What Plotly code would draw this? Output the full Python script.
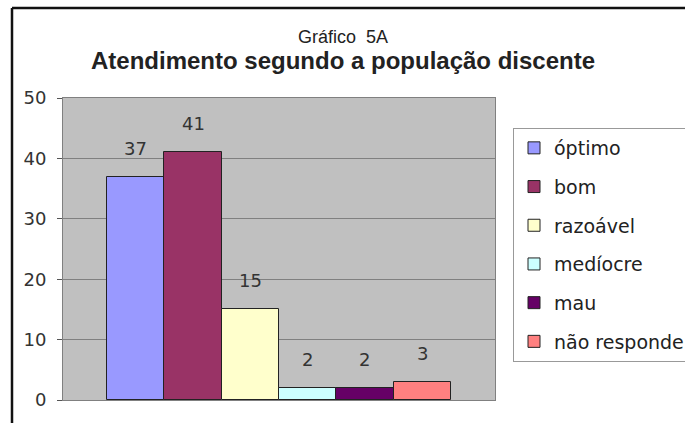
import plotly.graph_objects as go

# ---- data ----
categorias = ["óptimo", "bom", "razoável", "medíocre", "mau", "não responde"]
valores = [37, 41, 15, 2, 2, 3]
cores = ["#9999FF", "#993366", "#FFFFCC", "#CCFFFF", "#660066", "#FF8080"]
y_ticks = [0, 10, 20, 30, 40, 50]
titulo_sup = "Gráfico  5A"
titulo = "Atendimento segundo a população discente"

FONT = "Liberation Sans, Arial, sans-serif"
FONT_W = "DejaVu Sans, Verdana, sans-serif"

W, H = 685, 423
L, R, T, B = 63, 190, 98, 23
pw, ph = W - L - R, H - T - B


def px_x(x):
    return (x - L) / pw


def px_y(y):
    return (H - B - y) / ph


fig = go.Figure()
for i, (c, v, col) in enumerate(zip(categorias, valores, cores)):
    fig.add_trace(go.Bar(
        x=[c], y=[v], name=c,
        marker=dict(color=col, line=dict(color="#222222", width=1)),
        legendgroup=f"g{i}",
        hoverinfo="name+y",
    ))

annotations = []
for c, v in zip(categorias, valores):
    annotations.append(dict(
        x=c, y=v, xref="x", yref="y", text=str(v), showarrow=False,
        yanchor="bottom", yshift=16,
        font=dict(family=FONT_W, size=18, color="#333333"),
    ))

annotations.append(dict(
    x=px_x(343), y=px_y(37), xref="paper", yref="paper", text=titulo_sup,
    showarrow=False, xanchor="center", yanchor="middle",
    font=dict(family=FONT, size=18, color="#222222"),
))
annotations.append(dict(
    x=px_x(343), y=px_y(61), xref="paper", yref="paper", text=f"<b>{titulo}</b>",
    showarrow=False, xanchor="center", yanchor="middle",
    font=dict(family=FONT, size=24, color="#222222"),
))

shapes = [
    dict(type="line", xref="paper", yref="paper",
         x0=px_x(12), x1=px_x(12), y0=px_y(8), y1=px_y(440),
         line=dict(color="#111111", width=2.5)),
    dict(type="line", xref="paper", yref="paper",
         x0=px_x(12), x1=px_x(700), y0=px_y(8), y1=px_y(8),
         line=dict(color="#111111", width=2.5)),
]

fig.update_layout(
    width=W, height=H,
    margin=dict(l=L, r=R, t=T, b=B, autoexpand=False),
    paper_bgcolor="white",
    plot_bgcolor="#C0C0C0",
    barmode="overlay",
    bargap=0,
    showlegend=True,
    legend=dict(
        x=px_x(513), y=px_y(128), xanchor="left", yanchor="top",
        bgcolor="white", bordercolor="#999999", borderwidth=1,
        font=dict(family=FONT_W, size=19, color="#222222"),
        tracegroupgap=11, itemwidth=30,
    ),
    annotations=annotations,
    shapes=shapes,
    xaxis=dict(
        type="category", range=[-1.27, len(categorias) - 1 + 1.27],
        showticklabels=False, ticks="", showgrid=False,
        showline=True, linecolor="#808080", linewidth=1, mirror=True,
        zeroline=False,
    ),
    yaxis=dict(
        range=[0, 50], tickvals=y_ticks, ticks="outside", ticklen=5,
        tickcolor="#555555", ticklabelstandoff=7,
        tickfont=dict(family=FONT_W, size=18, color="#333333"),
        showgrid=True, gridcolor="#808080", gridwidth=1,
        showline=True, linecolor="#808080", linewidth=1, mirror=True,
        zeroline=False,
    ),
)

fig.write_html("out.html", config={"displayModeBar": False},
               post_script="document.body.style.margin='0';")
